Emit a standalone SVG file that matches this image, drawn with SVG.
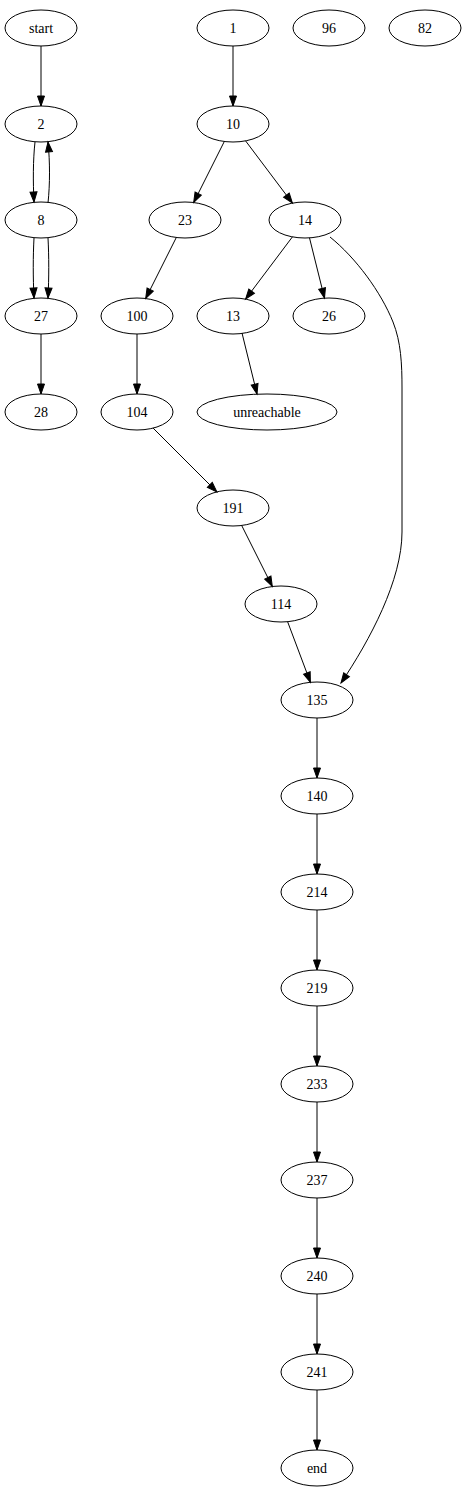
<svg xmlns="http://www.w3.org/2000/svg" width="467" height="1499" viewBox="0 0 467 1499">
<style>
.n ellipse{fill:none;stroke:#000;stroke-width:1}
.n text{font-family:"Liberation Serif","Times New Roman",serif;font-size:14px;text-anchor:middle;fill:#000}
#edges path{fill:none;stroke:#000;stroke-width:1;marker-end:url(#arr)}
</style>
<defs>
<marker id="arr" markerUnits="userSpaceOnUse" markerWidth="11" markerHeight="8" refX="10" refY="3.5" orient="auto" overflow="visible">
<path d="M0,0 L10,3.5 L0,7 z" fill="#000" stroke="#000" stroke-width="1"/>
</marker>
</defs>
<rect width="467" height="1499" fill="#fff"/>
<g id="edges">
<path d="M41,46 L41,106"/>
<path d="M35,142 C33,160 33,182 34,202"/>
<path d="M48,203 C50,184 50,162 48,142"/>
<path d="M34,238 C33,256 33,278 34,298"/>
<path d="M48,238 C49,256 49,278 48,298"/>
<path d="M41,334 L41,394"/>
<path d="M233,46 L233,106"/>
<path d="M224.3,141.5 L193.7,202.5"/>
<path d="M245.6,140.9 L292.4,203.1"/>
<path d="M176.3,237.5 L145.7,298.5"/>
<path d="M292.4,236.9 L245.6,299.1"/>
<path d="M309.5,237.9 L324.5,298.1"/>
<path d="M330,237 C356,258 381,292 393,322 C401,342 402,364 402,388 L402,532 C402,580 370,640 341,683"/>
<path d="M242,333 L257,394"/>
<path d="M137,334 L137,394"/>
<path d="M153.1,428.1 L216.9,491.9"/>
<path d="M241.7,525.5 L272.3,586.5"/>
<path d="M287.6,621.7 L310.4,682.3"/>
<path d="M317,718 L317,778"/>
<path d="M317,814 L317,874"/>
<path d="M317,910 L317,970"/>
<path d="M317,1006 L317,1066"/>
<path d="M317,1102 L317,1162"/>
<path d="M317,1198 L317,1258"/>
<path d="M317,1294 L317,1354"/>
<path d="M317,1390 L317,1450"/>
</g>
<g id="n_start" class="n"><ellipse cx="41" cy="28" rx="36" ry="18"/><text x="41" y="33">start</text></g>
<g id="n_1" class="n"><ellipse cx="233" cy="28" rx="36" ry="18"/><text x="233" y="33">1</text></g>
<g id="n_96" class="n"><ellipse cx="329" cy="28" rx="36" ry="18"/><text x="329" y="33">96</text></g>
<g id="n_82" class="n"><ellipse cx="425" cy="28" rx="36" ry="18"/><text x="425" y="33">82</text></g>
<g id="n_2" class="n"><ellipse cx="41" cy="124" rx="36" ry="18"/><text x="41" y="129">2</text></g>
<g id="n_10" class="n"><ellipse cx="233" cy="124" rx="36" ry="18"/><text x="233" y="129">10</text></g>
<g id="n_8" class="n"><ellipse cx="41" cy="220" rx="36" ry="18"/><text x="41" y="225">8</text></g>
<g id="n_23" class="n"><ellipse cx="185" cy="220" rx="36" ry="18"/><text x="185" y="225">23</text></g>
<g id="n_14" class="n"><ellipse cx="305" cy="220" rx="36" ry="18"/><text x="305" y="225">14</text></g>
<g id="n_27" class="n"><ellipse cx="41" cy="316" rx="36" ry="18"/><text x="41" y="321">27</text></g>
<g id="n_100" class="n"><ellipse cx="137" cy="316" rx="36" ry="18"/><text x="137" y="321">100</text></g>
<g id="n_13" class="n"><ellipse cx="233" cy="316" rx="36" ry="18"/><text x="233" y="321">13</text></g>
<g id="n_26" class="n"><ellipse cx="329" cy="316" rx="36" ry="18"/><text x="329" y="321">26</text></g>
<g id="n_28" class="n"><ellipse cx="41" cy="412" rx="36" ry="18"/><text x="41" y="417">28</text></g>
<g id="n_104" class="n"><ellipse cx="137" cy="412" rx="36" ry="18"/><text x="137" y="417">104</text></g>
<g id="n_unreachable" class="n"><ellipse cx="267" cy="412" rx="70" ry="18"/><text x="267" y="417">unreachable</text></g>
<g id="n_191" class="n"><ellipse cx="233" cy="508" rx="36" ry="18"/><text x="233" y="513">191</text></g>
<g id="n_114" class="n"><ellipse cx="281" cy="604" rx="36" ry="18"/><text x="281" y="609">114</text></g>
<g id="n_135" class="n"><ellipse cx="317" cy="700" rx="36" ry="18"/><text x="317" y="705">135</text></g>
<g id="n_140" class="n"><ellipse cx="317" cy="796" rx="36" ry="18"/><text x="317" y="801">140</text></g>
<g id="n_214" class="n"><ellipse cx="317" cy="892" rx="36" ry="18"/><text x="317" y="897">214</text></g>
<g id="n_219" class="n"><ellipse cx="317" cy="988" rx="36" ry="18"/><text x="317" y="993">219</text></g>
<g id="n_233" class="n"><ellipse cx="317" cy="1084" rx="36" ry="18"/><text x="317" y="1089">233</text></g>
<g id="n_237" class="n"><ellipse cx="317" cy="1180" rx="36" ry="18"/><text x="317" y="1185">237</text></g>
<g id="n_240" class="n"><ellipse cx="317" cy="1276" rx="36" ry="18"/><text x="317" y="1281">240</text></g>
<g id="n_241" class="n"><ellipse cx="317" cy="1372" rx="36" ry="18"/><text x="317" y="1377">241</text></g>
<g id="n_end" class="n"><ellipse cx="317" cy="1468" rx="36" ry="18"/><text x="317" y="1473">end</text></g>
</svg>
